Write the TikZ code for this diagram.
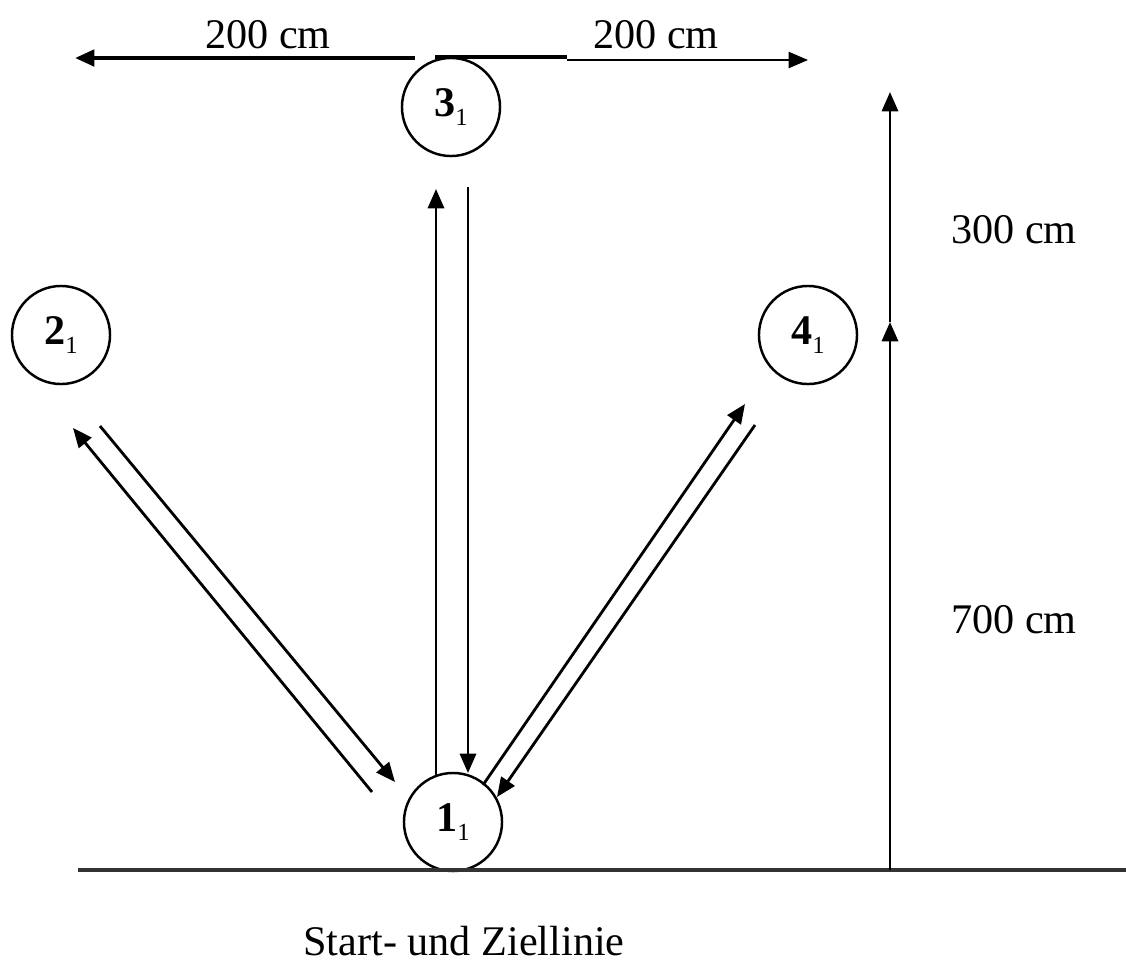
\documentclass[tikz,border=0pt]{standalone}
\usepackage{fontspec}
\setmainfont{Liberation Serif}
\usetikzlibrary{arrows.meta, positioning}

\newcommand{\stnum}[1]{\textbf{#1}\raisebox{-2.5pt}{\fontsize{7}{8}\selectfont 1}}

\begin{document}
\begin{tikzpicture}[x=0.01cm, y=-0.01cm, >={Triangle[length=5.5pt, width=4.6pt]},
        every node/.style={font=\fontsize{12}{14}\selectfont},
        station/.style={draw, circle, line width=0.7pt, minimum size=0.98cm, inner sep=0pt},
        run/.style={line width=0.8pt, ->}]
        \useasboundingbox (0,0) rectangle (1126,963);
        % Stations
        \node[station] (s3) at (451,107) {\stnum{3}};
        \node[station] (s2) at (61,335) {\stnum{2}};
        \node[station] (s4) at (808,335) {\stnum{4}};
        \node[station] (s1) at (453,822) {\stnum{1}};
        % Start line
        \coordinate (lineL) at (78,870);
        \coordinate (lineR) at (1126,870);
        \draw[line width=0.9pt, black!80] (lineL) -- (lineR);
        \node (start) at (464,941) {Start- und Ziellinie};
        % Top distances
        \coordinate (topA) at (415,58);
        \coordinate (topL) at (75,58);
        \coordinate (topB) at (435,57);
        \coordinate (topC) at (567,57);
        \coordinate (topD) at (567,60);
        \coordinate (topR) at (808,60);
        \draw[line width=1.2pt, ->] (topA) -- (topL);
        \draw[line width=1.2pt] (topB) -- (topC);
        \draw[line width=0.5pt, ->] (topD) -- (topR);
        \node (left200) at (268,35) {200 cm};
        \node (right200) at (656,35) {200 cm};
        % Runs between stations
        \coordinate (a1) at (436,776); \coordinate (a3) at (436,189);
        \coordinate (b3) at (468,187); \coordinate (b1) at (468,773);
        \coordinate (c1) at (372,792); \coordinate (c2) at (73,428);
        \coordinate (d2) at (100,426); \coordinate (d1) at (395,782);
        \coordinate (e1) at (483,785); \coordinate (e4) at (745,404);
        \coordinate (f4) at (755,425); \coordinate (f1) at (497,797);
        \draw[run] (a1) -- (a3);
        \draw[run] (b3) -- (b1);
        \draw[run] (c1) -- (c2);
        \draw[run] (d2) -- (d1);
        \draw[run] (e1) -- (e4);
        \draw[run] (f4) -- (f1);
        % Measure
        \coordinate (m0) at (890,870);
        \coordinate (m1) at (890,322);
        \coordinate (m2) at (890,92);
        \draw[run] (m0) -- (m1);
        \draw[run] (m1) -- (m2);
        \node (d300) at (1014,230) {300 cm};
        \node (d700) at (1014,620) {700 cm};
    \end{tikzpicture}
\end{document}
